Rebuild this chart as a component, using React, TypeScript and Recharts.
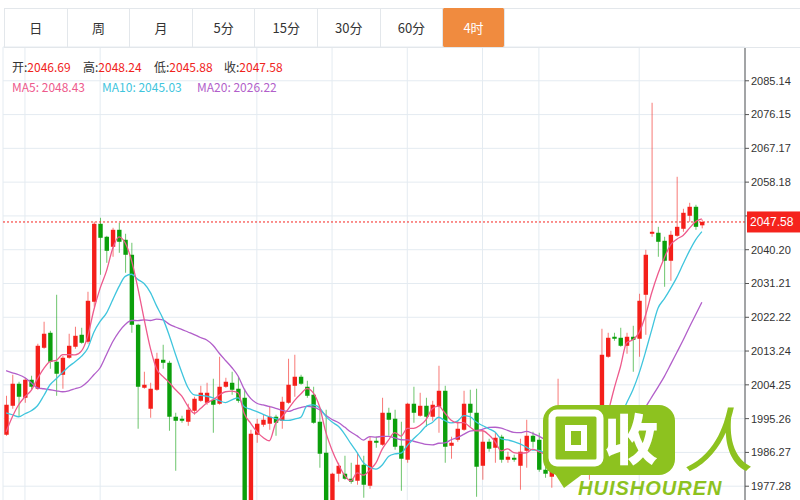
import React from "react";
import { ComposedChart, Bar, Line, XAxis, YAxis, CartesianGrid, ReferenceLine } from "recharts";

// 4h candles (prices)
const open = [
  1990.97, 1998.68, 2004.54, 2000.81, 2005.6, 2003.21, 2014.11, 2018.1, 2010.39, 2006.93,
  2011.45, 2014.38, 2017.57, 2015.71, 2026.35, 2047.1, 2043.64, 2040.98, 2045.5, 2042.84,
  2038.85, 2020.23, 2003.47, 1997.89, 2002.94, 2010.92, 2010.12, 1995.76, 1995.23, 1994.43,
  1997.35, 2000.01, 1999.48, 2000.28, 1999.22, 2003.74, 2004.8, 2003.21, 2000.81, 1971.54,
  1990.97, 1993.63, 1993.9, 1995.76, 1994.69, 1999.48, 2004.0, 2006.4, 2003.74, 2001.61,
  1994.43, 1986.18, 1972.87, 1980.6, 1980.6, 1979.27, 1978.73, 1982.99, 1977.4, 1989.37,
  1988.31, 1996.82, 1995.23, 1988.04, 1984.32, 1999.22, 1996.02, 1998.68, 1995.76, 1998.42,
  2002.67, 1988.04, 1989.64, 1992.3, 1999.22, 1996.82, 1982.72, 1989.11, 1987.51, 1990.44,
  1984.32, 1984.85, 1982.72, 1986.71, 1990.7, 1989.64, 1981.66, 1979.8, 1981.66, 1984.85,
  1982.19, 1980.06, 1981.66, 1983.52, 1986.45, 1984.85, 2011.72, 2017.04, 2016.77, 2014.64,
  2017.04, 2016.51, 2028.21, 2044.44, 2044.71, 2042.57, 2037.26, 2043.9, 2045.77, 2049.22,
  2051.62, 2046.69,
];
const high = [
  2001.34, 2006.93, 2005.07, 2006.13, 2006.66, 2015.18, 2021.03, 2018.63, 2028.21, 2011.98,
  2017.84, 2019.7, 2019.43, 2029.01, 2047.63, 2048.69, 2043.9, 2046.03, 2047.36, 2044.44,
  2042.04, 2020.5, 2007.73, 2004.8, 2012.78, 2014.91, 2010.65, 1996.82, 1996.02, 1999.22,
  2001.08, 2004.0, 2004.8, 2005.87, 2011.72, 2006.13, 2007.73, 2006.4, 2003.21, 1992.3,
  1995.22, 1996.29, 1998.68, 1996.29, 2001.08, 2011.19, 2012.25, 2006.93, 2005.33, 2003.74,
  1997.89, 1997.62, 1980.86, 1983.52, 1985.38, 1983.52, 1986.18, 1985.38, 1990.44, 1990.44,
  2000.81, 1998.15, 1997.62, 1994.43, 1999.48, 2003.74, 2002.14, 2000.81, 2000.01, 2009.32,
  2004.0, 1990.44, 1994.69, 2002.67, 2002.94, 2003.21, 1992.03, 1989.91, 1991.5, 1990.97,
  1986.45, 1985.65, 1989.91, 1994.96, 1991.77, 1991.5, 1982.72, 1982.72, 2005.87, 1986.98,
  1983.79, 1982.72, 1985.38, 1986.45, 1988.31, 2019.17, 2018.1, 2018.1, 2019.43, 2018.1,
  2019.96, 2028.48, 2040.18, 2079.29, 2046.29, 2043.64, 2045.23, 2059.6, 2051.09, 2052.68,
  2052.15, 2048.24,
];
const low = [
  1990.7, 1997.89, 1995.76, 1999.48, 2002.94, 2002.94, 2013.85, 2008.53, 2001.34, 2003.21,
  2011.19, 2013.85, 2015.18, 2015.18, 2025.02, 2033.53, 2036.72, 2038.32, 2039.38, 2034.06,
  2018.1, 1992.57, 2003.21, 1995.49, 2002.67, 2008.53, 1992.03, 1981.39, 1994.16, 1993.36,
  1996.29, 1999.75, 1998.95, 1991.5, 1998.95, 2003.47, 2001.61, 1999.48, 1969.41, 1970.21,
  1988.84, 1993.1, 1992.3, 1990.7, 1992.57, 1999.22, 2001.08, 2004.27, 2000.81, 1993.9,
  1982.19, 1971.01, 1972.07, 1978.47, 1979.0, 1977.94, 1977.67, 1974.21, 1976.61, 1987.51,
  1988.04, 1990.7, 1986.98, 1976.07, 1983.52, 1994.16, 1995.76, 1993.1, 1994.69, 1991.5,
  1983.52, 1984.59, 1989.11, 1992.03, 1993.1, 1974.47, 1979.0, 1986.45, 1983.52, 1983.52,
  1983.52, 1983.79, 1976.34, 1982.19, 1987.51, 1981.13, 1979.53, 1976.87, 1980.33, 1981.13,
  1979.0, 1979.53, 1980.6, 1979.0, 1983.79, 1984.32, 2011.45, 2015.97, 2014.38, 2012.52,
  2007.73, 2011.72, 2017.57, 2043.64, 2038.32, 2030.34, 2031.93, 2043.64, 2044.97, 2047.63,
  2045.5, 2045.88,
];
const close = [
  1998.95, 2004.54, 2001.08, 2005.6, 2003.74, 2014.64, 2017.84, 2010.39, 2007.2, 2011.45,
  2014.64, 2017.3, 2015.44, 2026.61, 2047.1, 2043.37, 2039.91, 2045.5, 2042.31, 2038.85,
  2020.23, 2003.74, 2004.27, 2003.21, 2011.19, 2010.12, 1995.76, 1994.69, 1994.69, 1997.62,
  2000.55, 2002.14, 2002.14, 1998.95, 2003.74, 2005.07, 2002.94, 2000.01, 1971.01, 1991.24,
  1993.9, 1994.96, 1995.76, 1994.16, 1999.75, 2004.27, 2006.4, 2004.54, 2001.34, 1994.16,
  1985.92, 1972.34, 1980.6, 1982.72, 1979.27, 1978.47, 1982.99, 1977.67, 1989.37, 1988.84,
  1996.82, 1994.96, 1987.78, 1984.59, 1999.22, 1996.82, 1998.68, 1995.76, 1998.95, 2002.67,
  1987.78, 1988.84, 1992.57, 1999.22, 1996.82, 1982.46, 1989.11, 1987.25, 1990.17, 1984.32,
  1985.12, 1984.32, 1986.45, 1990.7, 1989.11, 1981.66, 1980.6, 1981.66, 1984.85, 1982.19,
  1980.33, 1981.66, 1983.79, 1985.65, 1984.85, 2012.25, 2016.77, 2016.51, 2014.64, 2017.04,
  2016.24, 2026.61, 2038.85, 2044.97, 2042.31, 2037.26, 2044.17, 2046.29, 2050.02, 2051.62,
  2046.29, 2047.58,
];
const ma5 = [
  1991.77, 1995.76, 1998.95, 2001.08, 2002.78, 2005.92, 2008.58, 2010.44, 2010.76, 2012.3,
  2012.3, 2012.2, 2013.21, 2017.09, 2024.22, 2029.97, 2034.49, 2040.5, 2043.64, 2041.99,
  2037.36, 2030.13, 2021.88, 2014.06, 2008.53, 2006.5, 2004.91, 2003.0, 2001.29, 1998.58,
  1996.66, 1997.94, 1999.43, 2000.28, 2001.5, 2002.41, 2002.57, 2002.14, 1996.55, 1994.06,
  1991.82, 1990.23, 1989.37, 1994.0, 1995.7, 1997.78, 2000.07, 2001.82, 2003.26, 2002.14,
  1998.47, 1991.66, 1986.87, 1983.15, 1980.17, 1978.68, 1980.81, 1980.22, 1981.55, 1983.47,
  1987.14, 1989.53, 1991.56, 1990.6, 1992.67, 1992.67, 1993.42, 1995.01, 1997.89, 1998.58,
  1996.77, 1994.8, 1994.16, 1994.21, 1993.04, 1991.98, 1992.03, 1990.97, 1989.16, 1986.66,
  1987.19, 1986.23, 1986.07, 1986.18, 1987.14, 1986.45, 1985.7, 1984.74, 1983.57, 1982.19,
  1981.93, 1982.14, 1982.56, 1982.72, 1983.26, 1989.64, 1996.6, 2003.21, 2009.0, 2015.44,
  2016.24, 2018.21, 2022.68, 2028.74, 2033.8, 2037.99, 2041.51, 2043.0, 2044.01, 2045.88,
  2047.69, 2048.43,
];
const ma10 = [
  1996.82, 1996.29, 1995.76, 1996.55, 1997.35, 1998.68, 2001.34, 2004.27, 2005.87, 2007.54,
  2009.11, 2010.39, 2011.82, 2013.93, 2018.26, 2021.13, 2023.34, 2026.85, 2030.37, 2033.11,
  2033.67, 2032.31, 2031.19, 2028.85, 2025.26, 2021.93, 2017.52, 2012.44, 2007.67, 2003.55,
  2001.58, 2001.42, 2001.21, 2000.79, 2000.04, 1999.53, 2000.25, 2000.79, 1998.42, 1997.78,
  1997.12, 1996.4, 1995.76, 1995.28, 1994.88, 1994.8, 1995.15, 1995.6, 1998.63, 1998.92,
  1998.13, 1995.87, 1994.35, 1993.21, 1991.16, 1988.58, 1986.23, 1983.55, 1982.35, 1981.82,
  1982.91, 1985.17, 1985.89, 1986.07, 1988.07, 1989.91, 1991.48, 1993.29, 1994.24, 1995.63,
  1994.72, 1994.11, 1994.59, 1996.05, 1995.81, 1994.37, 1993.42, 1992.57, 1991.69, 1989.85,
  1989.59, 1989.14, 1988.52, 1987.67, 1986.9, 1986.82, 1985.97, 1985.41, 1984.88, 1984.67,
  1984.19, 1983.92, 1983.66, 1983.15, 1982.72, 1985.78, 1989.4, 1993.02, 1995.87, 1999.42,
  2002.94, 2007.43, 2012.94, 2018.87, 2024.62, 2027.12, 2029.86, 2032.84, 2036.38, 2039.83,
  2042.84, 2045.03,
];
const ma20 = [
  2008.0, 2007.46, 2006.93, 2006.13, 2004.8, 2003.47, 2003.21, 2002.94, 2002.67, 2002.41,
  2002.67, 2003.21, 2003.74, 2005.07, 2006.93, 2008.79, 2012.25, 2015.71, 2018.37, 2020.31,
  2021.37, 2021.35, 2021.51, 2021.37, 2021.75, 2021.53, 2020.41, 2019.64, 2019.01, 2018.31,
  2017.62, 2016.85, 2016.19, 2014.8, 2012.65, 2010.73, 2008.87, 2006.61, 2003.05, 2000.65,
  1999.35, 1998.9, 1998.47, 1998.02, 1997.46, 1997.17, 1997.7, 1998.18, 1998.52, 1998.34,
  1997.62, 1996.13, 1995.04, 1994.24, 1993.01, 1991.69, 1990.68, 1989.56, 1990.49, 1990.36,
  1990.52, 1990.52, 1990.12, 1989.64, 1989.61, 1989.24, 1988.84, 1988.41, 1988.28, 1988.71,
  1988.81, 1989.64, 1990.23, 1991.05, 1991.93, 1992.14, 1992.43, 1992.91, 1992.96, 1992.72,
  1992.14, 1991.61, 1991.55, 1991.85, 1991.34, 1990.6, 1989.69, 1988.97, 1988.28, 1987.25,
  1986.87, 1986.52, 1986.07, 1985.41, 1984.79, 1986.28, 1987.67, 1989.13, 1990.36, 1992.01,
  1993.55, 1995.68, 1998.29, 2001.0, 2003.66, 2006.45, 2009.62, 2012.86, 2016.11, 2019.59,
  2022.89, 2026.22,
];

const priceTicks = [
  1977.28, 1986.27, 1995.26, 2004.25, 2013.24, 2022.22, 2031.21, 2040.2, 2049.19, 2058.18,
  2067.17, 2076.15, 2085.14,
];
const priceDomain = [1968.29, 2094.13];
// candles where a new trading day starts (vertical grid lines)
const dayBreaks = [3, 15, 40, 52, 64, 76, 85, 101];
const periods = ["日", "周", "月", "5分", "15分", "30分", "60分", "4时"];
const activePeriod = "4时";

const UP = "#f41f1a";
const DOWN = "#0b9f0b";
const C_MA5 = "#ee5a8c";
const C_MA10 = "#3fc5dd";
const C_MA20 = "#b25fca";
const GRID = "#e4ebf1";
const FONT = '"Noto Sans CJK SC", "Noto Sans", sans-serif';

const rows = open.map((o, i) => ({
  i,
  open: o,
  high: high[i],
  low: low[i],
  close: close[i],
  range: [low[i], high[i]],
  ma5: ma5[i],
  ma10: ma10[i],
  ma20: ma20[i],
}));

const last = rows[rows.length - 1];

function Candle(props: any) {
  const { x, y, width, height, payload } = props;
  if (!payload || height == null) return null;
  const top = Math.min(y, y + height);
  const h = Math.abs(height);
  const span = payload.high - payload.low || 1;
  const k = h / span;
  const py = (v: number) => top + (payload.high - v) * k;
  const up = payload.close >= payload.open;
  const color = up ? UP : DOWN;
  const cx = x + width / 2;
  const b1 = py(Math.max(payload.open, payload.close));
  const b2 = py(Math.min(payload.open, payload.close));
  const bw = 4.4;
  return (
    <g>
      <line x1={cx} x2={cx} y1={top} y2={top + h} stroke={color} strokeWidth={1} strokeOpacity={0.6} />
      <rect x={cx - bw / 2} y={b1} width={bw} height={Math.max(b2 - b1, 1.3)} fill={color} />
    </g>
  );
}

// red tag with the last price; tick of a second right axis so it is painted after the price labels
function PriceTag(props: any) {
  const { x, y } = props;
  return (
    <g>
      <rect x={x - 52} y={y - 10.5} width={54} height={21} fill="#f5231d" />
      <text x={x - 49} y={y + 4.5} fill="#fff" fontSize={12} fontFamily='"Liberation Sans", sans-serif'>
        {last.close.toFixed(2)}
      </text>
    </g>
  );
}

function TabBar() {
  return (
    <div style={{ position: "absolute", left: 0, top: 0, width: 800, height: 49 }}>
      <div style={{ position: "absolute", left: 4, top: 8, width: 796, height: 0, borderTop: "1px solid #e3e7eb" }} />
      <div style={{ position: "absolute", left: 4, top: 47, width: 796, height: 0, borderTop: "1px solid #e3e7eb" }} />
      {periods.map((p, i) => {
        const active = p === activePeriod;
        return (
          <div
            key={p}
            style={{
              position: "absolute",
              left: 4 + i * 62.6,
              top: 8,
              width: 62.6,
              height: 39,
              boxSizing: "border-box",
              borderLeft: "1px solid #e3e7eb",
              borderRight: i === periods.length - 1 ? "1px solid #e3e7eb" : "none",
              background: active ? "#f08b3f" : "transparent",
              borderRadius: active ? 2 : 0,
              color: active ? "#fff" : "#333",
              fontSize: 13,
              fontFamily: FONT,
              display: "flex",
              alignItems: "center",
              justifyContent: "center",
            }}
          >
            {p}
          </div>
        );
      })}
    </div>
  );
}

function InfoText() {
  const ohlc = [
    ["开", last.open, 12],
    ["高", last.high, 83],
    ["低", last.low, 154],
    ["收", last.close, 224],
  ] as const;
  const mas = [
    ["MA5", last.ma5, C_MA5, 12],
    ["MA10", last.ma10, C_MA10, 102],
    ["MA20", last.ma20, C_MA20, 197],
  ] as const;
  return (
    <div style={{ position: "absolute", left: 0, top: 0, fontFamily: FONT, fontSize: 12 }}>
      {ohlc.map(([k, v, left]) => (
        <div key={k} style={{ position: "absolute", left, top: 58, whiteSpace: "nowrap", lineHeight: "18px" }}>
          <span style={{ color: "#333" }}>{k}:</span>
          <span style={{ color: "#f0231c" }}>{v.toFixed(2)}</span>
        </div>
      ))}
      {mas.map(([k, v, c, left]) => (
        <div key={k} style={{ position: "absolute", left, top: 78, whiteSpace: "nowrap", lineHeight: "18px", color: c }}>
          {k}: {v.toFixed(2)}
        </div>
      ))}
    </div>
  );
}

function Watermark() {
  const green = "#8dc21f";
  return (
    <div style={{ position: "absolute", left: 540, top: 400, width: 230, height: 100, pointerEvents: "none" }}>
      <svg width={230} height={100} style={{ position: "absolute", left: 0, top: 0 }}>
        <rect x={3} y={5} width={132} height={70} rx={16} fill={green} />
        <polygon points="10,66 24,88 48,70" fill={green} />
        <rect x={12} y={13} width={48} height={50} rx={5} fill="none" stroke="#fff" strokeWidth={7} />
        <rect x={25} y={25} width={22} height={26} fill="#fff" />
        <rect x={31} y={31} width={10} height={14} fill={green} />
      </svg>
      <div
        style={{
          position: "absolute",
          left: 64,
          top: 2,
          fontSize: 54,
          lineHeight: "70px",
          fontWeight: 900,
          color: "#fff",
          fontFamily: FONT,
        }}
      >
        收
      </div>
      <div
        style={{
          position: "absolute",
          left: 150,
          top: -4,
          fontSize: 70,
          lineHeight: "80px",
          fontWeight: 400,
          color: green,
          fontFamily: FONT,
          transform: "skewX(-12deg)",
        }}
      >
        人
      </div>
      <div
        style={{
          position: "absolute",
          left: 38,
          top: 77,
          fontSize: 20,
          lineHeight: "22px",
          fontWeight: 700,
          fontStyle: "italic",
          color: green,
          letterSpacing: 1,
          fontFamily: '"Liberation Sans", sans-serif',
        }}
      >
        HUISHOUREN
      </div>
    </div>
  );
}

export default function App() {
  return (
    <div
      style={{
        position: "fixed",
        left: 0,
        top: 0,
        width: 800,
        height: 500,
        overflow: "hidden",
        background: "#fff",
      }}
    >
      <div style={{ position: "absolute", left: 0, top: 0 }}>
        <ComposedChart width={800} height={540} data={rows} margin={{ top: 47, right: 0, bottom: 20, left: 3 }}>
          <CartesianGrid stroke={GRID} strokeWidth={1} />
          <XAxis dataKey="i" hide ticks={dayBreaks} interval={0} padding={{ left: 0, right: 40 }} />
          <YAxis
            orientation="right"
            type="number"
            domain={priceDomain}
            allowDataOverflow
            ticks={priceTicks}
            interval={0}
            width={54}
            tickSize={4}
            tickMargin={2}
            axisLine={{ stroke: "#555" }}
            tickLine={{ stroke: "#555" }}
            tick={{ fontSize: 11, fill: "#333", fontFamily: '"Liberation Sans", sans-serif' }}
            tickFormatter={(v: number) => v.toFixed(2)}
          />
          <YAxis
            yAxisId="tag"
            orientation="right"
            type="number"
            domain={priceDomain}
            allowDataOverflow
            ticks={[last.close]}
            interval={0}
            width={1}
            tickSize={0}
            tickMargin={0}
            axisLine={false}
            tickLine={false}
            tick={<PriceTag />}
          />
          <Bar dataKey="range" shape={<Candle />} barSize={5} isAnimationActive={false} />
          <Line type="monotone" dataKey="ma20" stroke={C_MA20} strokeWidth={1.3} dot={false} isAnimationActive={false} />
          <Line type="monotone" dataKey="ma10" stroke={C_MA10} strokeWidth={1.3} dot={false} isAnimationActive={false} />
          <Line type="monotone" dataKey="ma5" stroke={C_MA5} strokeWidth={1.3} dot={false} isAnimationActive={false} />
          <ReferenceLine yAxisId="tag" y={last.close} stroke="#f5231d" strokeDasharray="2 2" />
        </ComposedChart>
      </div>
      <TabBar />
      <InfoText />
      <Watermark />
    </div>
  );
}
